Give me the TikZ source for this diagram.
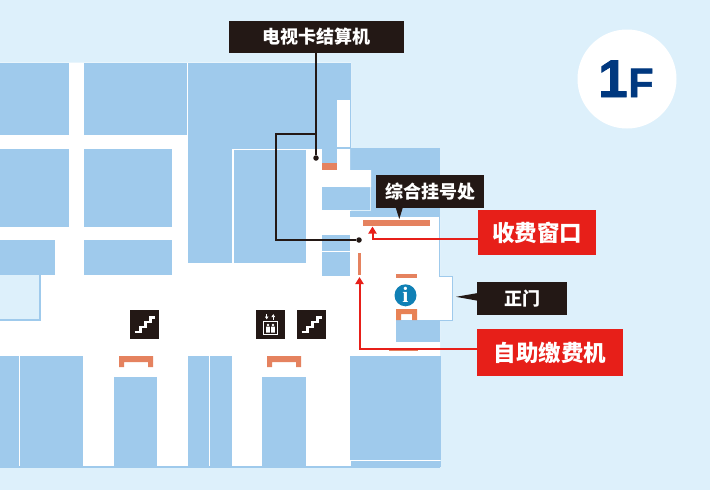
\documentclass[tikz,border=0pt]{standalone}
\usepackage{fontspec}
\setmainfont[BoldFeatures={FakeBold=1.5}]{Liberation Sans}
\newfontfamily\cjkfont{Noto Sans CJK SC}
\newfontfamily\infofont{Liberation Serif}
\usetikzlibrary{arrows.meta}
\definecolor{skybg}{HTML}{DDF0FB}
\definecolor{roomblue}{HTML}{9FCAEC}
\definecolor{barorange}{HTML}{E5825F}
\definecolor{tagblack}{HTML}{231815}
\definecolor{tagred}{HTML}{E71F19}
\definecolor{infoblue}{HTML}{1080B5}
\definecolor{floornavy}{HTML}{00387F}
\begin{document}
\begin{tikzpicture}[
		x=1pt,y=-1pt,
		blacktag/.style={
		% The shape:
		rectangle,
		inner sep=0pt,
		% The filling:
		fill=tagblack,
		% Font
		text=white,
		font=\cjkfont\bfseries\fontsize{18}{20}\selectfont
		},
		redtag/.style={
		rectangle,
		inner sep=0pt,
		fill=tagred,
		text=white,
		font=\cjkfont\bfseries\fontsize{22.5}{26}\selectfont
		},
		bar/.style={
		rectangle,
		inner sep=0pt,
		fill=barorange
		},
		leaderdot/.style={
		circle,
		inner sep=0pt,
		minimum size=5.5pt,
		fill=tagblack
		},
		iconbox/.style={
		rectangle,
		inner sep=0pt,
		minimum size=29pt,
		fill=tagblack
		},
		leader/.style={draw=tagblack,line width=1.5pt},
		redline/.style={draw=tagred,line width=2pt,-{Triangle[length=7pt,width=8pt]}},
		stairline/.style={draw=white,line width=2.2pt}
	]
	\useasboundingbox (0,0) rectangle (710,490);
	\fill[skybg] (0,0) rectangle (710,490);

	% floor and door
	\fill[white] (0,62.5) -- (351,62.5) -- (351,217) -- (440,217) -- (440,466) -- (0,466) -- cycle;
	\fill[white,draw=roomblue,line width=1pt] (439,276) -- (452,276) -- (452,320) -- (439,320);
	\fill[roomblue] (439.2,217) rectangle (440.2,276);
	\fill[roomblue] (0,466) rectangle (440,468);

	% rooms: x1/y1/x2/y2
	\foreach \xa/\ya/\xb/\yb in {0/62.5/68.5/135, 84/62.5/187/135, 188/62.5/351/149,
		0/149/68.5/226.5, 84/149/172/226.5, 188/149/232/263, 234/150/306/263,
		322/149/337/163, 350/148/440/170, 371/170/440/217, 350/211/371/217,
		322/187/370/210, 322/235/350/251, 322/252/350/276, 0/240/55/275, 84/240/172/275,
		0/356/19/466, 20/356/83/466, 114/377/157/466, 188/356/209/466, 210/356/232/466,
		262/377/306/466, 350/356/441/460, 351/461/441/467, 396/320/440/342}
		\fill[roomblue] (\xa,\ya) rectangle (\xb,\yb);
	\fill[white] (337,100) rectangle (350,147);
	\fill[white] (337,149) rectangle (350,170) (350,170) rectangle (371,187);
	\fill[skybg] (0,275) rectangle (40,320);
	\draw[roomblue,line width=1.5pt] (40,275) -- (40,320) -- (0,320);

	% counters
	\node (tvbar)[bar,minimum width=15pt,minimum height=7pt] at (329.5,166.5) {};
	\node (windowbar)[bar,minimum width=67pt,minimum height=6pt] at (396.5,223) {};
	\node (selfbar)[bar,minimum width=3.5pt,minimum height=22pt] at (359.3,264) {};
	\node (infobar)[bar,minimum width=21pt,minimum height=3.5pt] at (406.3,276.2) {};
	\node (lowbar)[bar,minimum width=29pt,minimum height=3pt] at (403.5,349.5) {};
	\foreach \x in {119,267}
		\fill[barorange] (\x,356) -- ++(34,0) -- ++(0,11) -- ++(-5,0) -- ++(0,-5) -- ++(-24,0) -- ++(0,5) -- ++(-5,0) -- cycle;
	\fill[barorange!90!orange] (396,320) -- (396,309) -- (417,309) -- (417,320) -- (412,320) -- (412,314) -- (401,314) -- (401,320) -- cycle;

	% info
	\node (info)[circle,inner sep=0pt,minimum size=22pt,fill=infoblue,text=white,font=\infofont\bfseries\fontsize{22}{22}\selectfont] at (405.5,295.3) {i};

	% icons
	\node (stairleft)[iconbox] at (144,324.5) {};
	\node (lift)[iconbox] at (270.5,324.5) {};
	\node (stairright)[iconbox] at (311.5,324.5) {};
	\foreach \x in {134.5,301.5}
		\draw[stairline] (\x,332) -- ++(6,0) -- ++(0,-5) -- ++(5,0) -- ++(0,-5) -- ++(5,0) -- ++(0,-4.5) -- ++(4.5,0);
	\draw[white,line width=.8pt] (263.5,321) rectangle (277.5,334);
	\fill[white] (268,325) circle (1.3pt) (273,325) circle (1.3pt);
	\fill[white] (266.2,326.5) rectangle (269.8,332.5) (271.2,326.5) rectangle (274.8,332.5);
	\draw[white,line width=1pt,-{Latex[length=3pt,width=4pt]}] (266.7,314) -- (266.7,319.5);
	\draw[white,line width=1pt,-{Latex[length=3pt,width=4pt]}] (273.3,319.5) -- (273.3,314);

	% tags
	\node (tvtag)[blacktag,minimum width=175pt,minimum height=32pt] at (316,37) {电视卡结算机};
	\node (regtag)[blacktag,minimum width=108pt,minimum height=33pt] at (430,191.5) {综合挂号处};
	\node (doortag)[blacktag,minimum width=90pt,minimum height=33pt] at (522,298.5) {正门\hspace{3pt}};
	\node (paytag)[redtag,minimum width=118pt,minimum height=45pt] at (537,232.5) {收费窗口};
	\node (selftag)[redtag,minimum width=146pt,minimum height=47pt] at (550,352.5) {自助缴费机};
	\fill[tagblack] (395.5,207) -- (399.3,219) -- (403,207) -- cycle;
	\fill[tagblack] (478,293) -- (456,296.8) -- (478,300.8) -- cycle;

	% leader lines
	\node (tvdot)[leaderdot] at (316,158) {};
	\node (windowdot)[leaderdot] at (359,240) {};
	\coordinate (branch) at (316,134);
	\coordinate (elbow) at (276,240);
	\draw[leader] (tvtag) -- (tvdot);
	\draw[leader] (branch) -| (elbow) -- (windowdot);

	% red arrows
	\coordinate (paytip) at (372.5,226.5);
	\coordinate (selftip) at (359.5,277);
	\draw[redline] ([yshift=-6.5pt]paytag.west) -| (paytip);
	\draw[redline] ([yshift=3.5pt]selftag.west) -| (selftip);

	% floor badge
	\node (badge)[circle,inner sep=0pt,minimum size=99pt,fill=white] at (627,79) {};
	\node (one)[inner sep=0pt,anchor=base,text=floornavy,font=\bfseries\fontsize{53}{53}\selectfont] at (613,97) {1};
	\node (floorF)[inner sep=0pt,anchor=base,text=floornavy,font=\bfseries\fontsize{41}{41}\selectfont] at (641,97) {F};
\end{tikzpicture}
\end{document}
